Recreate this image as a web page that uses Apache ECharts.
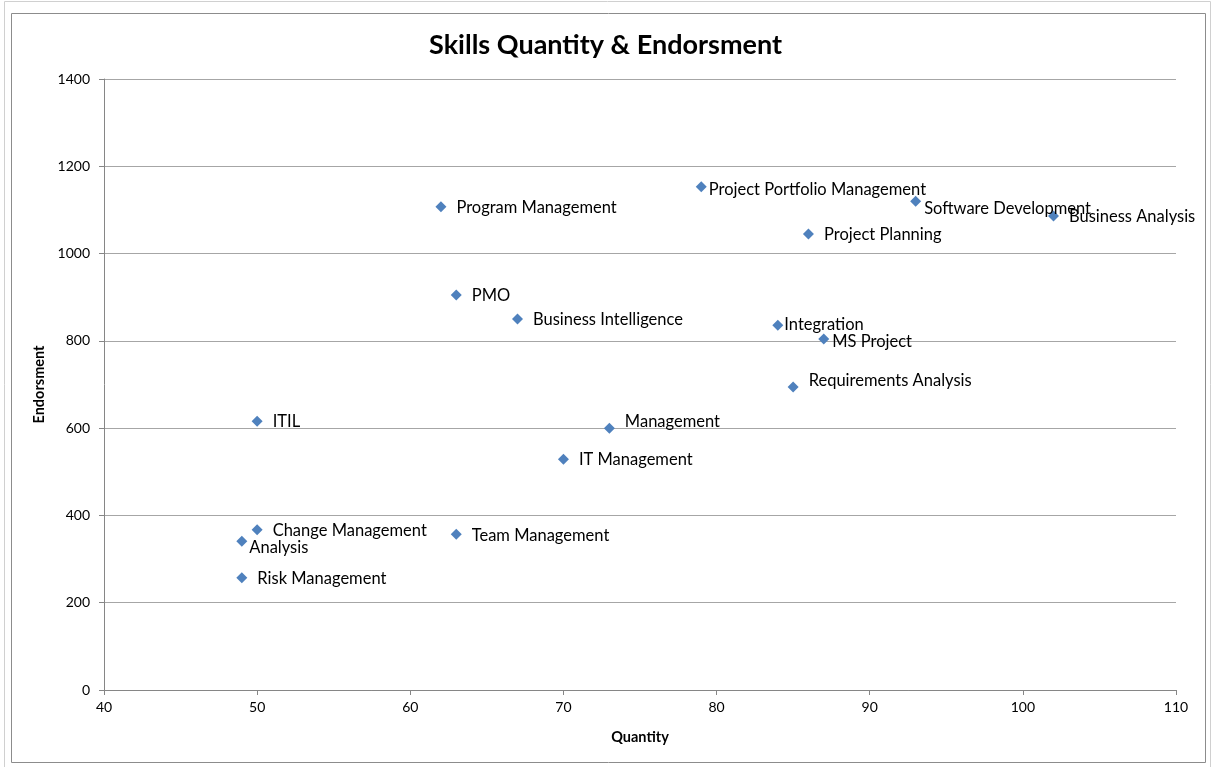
<!DOCTYPE html>
<html>
<head>
<meta charset="utf-8">
<script src="https://cdn.jsdelivr.net/npm/echarts@6/dist/echarts.min.js"></script>
<style>
  html, body { margin: 0; padding: 0; background: #fff; }
  #main { width: 1211px; height: 767px; }
</style>
</head>
<body>
<div id="main"></div>
<script>
var skills = ['Program Management', 'Project Portfolio Management', 'Software Development',
  'Business Analysis', 'Project Planning', 'PMO', 'Business Intelligence', 'Integration',
  'MS Project', 'Requirements Analysis', 'ITIL', 'Management', 'IT Management',
  'Change Management', 'Analysis', 'Team Management', 'Risk Management'];
var quantity = [62, 79, 93, 102, 86, 63, 67, 84, 87, 85, 50, 73, 70, 50, 49, 63, 49];
var endorsment = [1107, 1153, 1120, 1086, 1045, 905, 850, 836, 804, 694, 616, 600, 529, 367, 341, 357, 257];

// labels that Excel placed differently from the default
var labelShift = {
  'Project Portfolio Management': [-8, 3],
  'Software Development': [-7, 7],
  'Integration': [-9, 0],
  'MS Project': [-7, 3],
  'Requirements Analysis': [0, -6],
  'Management': [0, -6],
  'Analysis': [-8, 6]
};

var font = 'Lato, "Open Sans", sans-serif';

var points = skills.map(function (name, i) {
  var item = { name: name, value: [quantity[i], endorsment[i]] };
  if (labelShift[name]) {
    item.label = { offset: labelShift[name] };
  }
  return item;
});

var chart = echarts.init(document.getElementById('main'));
chart.setOption({
  animation: false,
  title: {
    text: 'Skills Quantity & Endorsment',
    left: 'center',
    top: 27,
    textStyle: { fontFamily: font, fontSize: 27, fontWeight: 'bold', color: '#000' }
  },
  grid: { left: 104, right: 35, top: 79, bottom: 77 },
  xAxis: {
    type: 'value',
    min: 40,
    max: 110,
    interval: 10,
    name: 'Quantity',
    nameLocation: 'middle',
    nameGap: 40,
    nameTextStyle: { fontFamily: font, fontSize: 14.5, fontWeight: 'bold', color: '#000' },
    axisLine: { show: true, lineStyle: { color: '#868686' } },
    axisTick: { show: true, length: 5, lineStyle: { color: '#868686' } },
    axisLabel: { fontFamily: font, fontSize: 14, color: '#000', margin: 10 },
    splitLine: { show: false }
  },
  yAxis: {
    type: 'value',
    min: 0,
    max: 1400,
    interval: 200,
    name: 'Endorsment',
    nameLocation: 'middle',
    nameGap: 56,
    nameTextStyle: { fontFamily: font, fontSize: 14.5, fontWeight: 'bold', color: '#000' },
    axisLine: { show: true, lineStyle: { color: '#868686' } },
    axisTick: { show: true, length: 5, lineStyle: { color: '#868686' } },
    axisLabel: {
      fontFamily: font, fontSize: 14, color: '#000', margin: 14,
      formatter: function (v) { return String(v); }
    },
    splitLine: { show: true, lineStyle: { color: '#a6a6a6' } }
  },
  series: [{
    type: 'scatter',
    symbol: 'diamond',
    symbolSize: 11,
    itemStyle: { color: '#4f81bd', opacity: 1 },
    label: {
      show: true,
      position: 'right',
      distance: 10,
      offset: [0, 1],
      formatter: '{b}',
      fontFamily: font,
      fontSize: 16.5,
      color: '#000'
    },
    data: points
  }],
  graphic: [
    {
      type: 'rect',
      shape: { x: 4.5, y: 1.5, width: 1206, height: 770 },
      style: { fill: 'none', stroke: '#d0d0d0', lineWidth: 1 },
      silent: true
    },
    {
      type: 'rect',
      shape: { x: 11.5, y: 13.5, width: 1194, height: 749 },
      style: { fill: 'none', stroke: '#8c8c8c', lineWidth: 1 },
      silent: true
    }
  ]
});
</script>
</body>
</html>
